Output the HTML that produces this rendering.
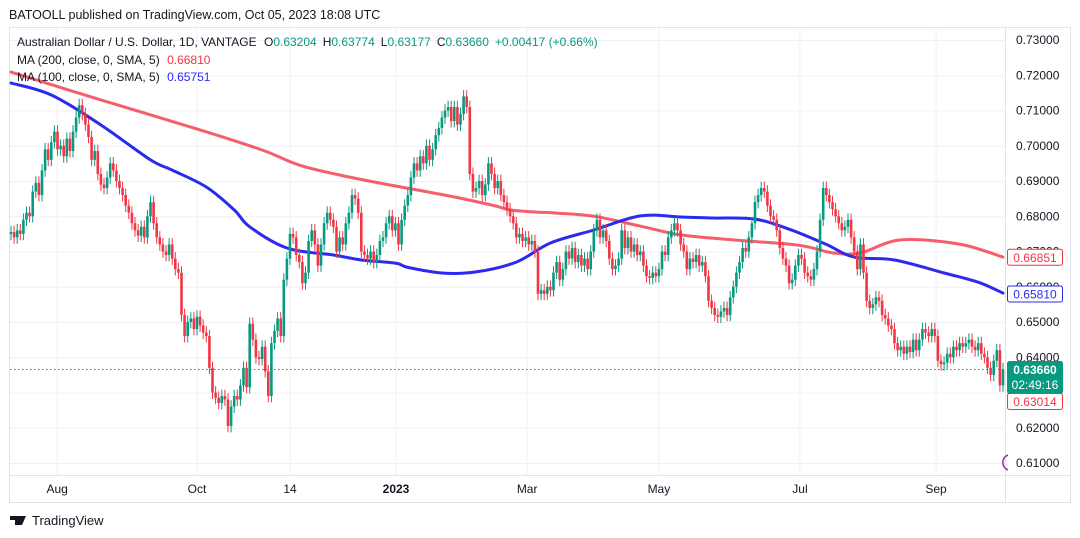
<!DOCTYPE html>
<html><head><meta charset="utf-8"><style>
body{margin:0;background:#fff;font-family:"Liberation Sans",sans-serif;}
svg{display:block}
</style></head><body>
<svg id="chart" width="1080" height="538" xmlns="http://www.w3.org/2000/svg" font-family="Liberation Sans, sans-serif">
<text x="9" y="19" font-size="12.5" fill="#131722">BATOOLL published on TradingView.com, Oct 05, 2023 18:08 UTC</text>
<rect x="9.5" y="27.5" width="1061" height="475" fill="none" stroke="#e0e3eb"/>
<g id="grid"></g>
<line x1="10" y1="475.5" x2="1070" y2="475.5" stroke="#e0e3eb"/>
<line x1="1005.5" y1="28" x2="1005.5" y2="502" stroke="#e0e3eb"/>
<g id="ma"></g>
<g id="candles"></g>
<line x1="10" y1="369.5" x2="1005" y2="369.5" stroke="#089981" stroke-dasharray="1.5,2.5"/>
<g id="axes"></g>
<text x="17" y="46" font-size="12" fill="#131722">Australian Dollar / U.S. Dollar, 1D, VANTAGE <tspan dx="4">O</tspan><tspan fill="#089981">0.63204</tspan><tspan dx="6">H</tspan><tspan fill="#089981">0.63774</tspan><tspan dx="6">L</tspan><tspan fill="#089981">0.63177</tspan><tspan dx="6">C</tspan><tspan fill="#089981">0.63660</tspan><tspan dx="6" fill="#089981">+0.00417 (+0.66%)</tspan></text>
<text x="17" y="64" font-size="12" fill="#131722">MA (200, close, 0, SMA, 5) <tspan dx="4" fill="#f23645">0.66810</tspan></text>
<text x="17" y="81" font-size="12" fill="#131722">MA (100, close, 0, SMA, 5) <tspan dx="4" fill="#2a2aff">0.65751</tspan></text>
<path d="M1008,455 a8,8 0 0 0 0,15" fill="none" stroke="#9c27b0" stroke-width="1.5"/>
<g><path d="M10,516 h9 v9 h-4 v-5 h-5z M19,516 h3 l-3,9 h-3z M22,516 h4 l-4,9 h-3z" fill="#131722"/>
<text x="32" y="525" font-size="13" fill="#131722">TradingView</text></g>
</svg>
<script>
const closes=[0.6755,0.6740,0.6760,0.6750,0.6790,0.6810,0.6800,0.6870,0.6895,0.6860,
0.6930,0.6990,0.6960,0.7010,0.7040,0.6990,0.7000,0.6970,0.7020,0.6985,
0.7040,0.7080,0.7115,0.7090,0.7060,0.7025,0.6960,0.6985,0.6920,0.6890,
0.6880,0.6910,0.6950,0.6930,0.6900,0.6880,0.6860,0.6830,0.6810,0.6780,
0.6760,0.6745,0.6770,0.6740,0.6800,0.6840,0.6780,0.6740,0.6720,0.6700,
0.6690,0.6720,0.6680,0.6650,0.6640,0.6520,0.6460,0.6500,0.6510,0.6480,
0.6515,0.6490,0.6470,0.6460,0.6370,0.6300,0.6285,0.6270,0.6290,0.6280,
0.6205,0.6260,0.6290,0.6280,0.6320,0.6370,0.6315,0.6495,0.6450,0.6400,
0.6395,0.6430,0.6360,0.6290,0.6440,0.6475,0.6510,0.6460,0.6620,0.6680,
0.6750,0.6740,0.6690,0.6670,0.6610,0.6640,0.6730,0.6760,0.6720,0.6660,
0.6720,0.6780,0.6810,0.6790,0.6770,0.6700,0.6740,0.6720,0.6780,0.6810,
0.6860,0.6850,0.6810,0.6700,0.6690,0.6680,0.6700,0.6670,0.6690,0.6730,
0.6740,0.6780,0.6800,0.6760,0.6780,0.6720,0.6790,0.6830,0.6860,0.6910,
0.6950,0.6930,0.6970,0.6950,0.7000,0.6960,0.6990,0.7030,0.7050,0.7080,
0.7100,0.7110,0.7070,0.7110,0.7060,0.7090,0.7140,0.7110,0.6920,0.6870,
0.6880,0.6900,0.6860,0.6890,0.6950,0.6920,0.6880,0.6900,0.6860,0.6840,
0.6820,0.6800,0.6780,0.6740,0.6750,0.6730,0.6740,0.6720,0.6730,0.6700,
0.6580,0.6590,0.6580,0.6600,0.6590,0.6640,0.6670,0.6620,0.6650,0.6700,
0.6680,0.6710,0.6670,0.6690,0.6660,0.6680,0.6650,0.6700,0.6760,0.6790,
0.6740,0.6760,0.6730,0.6680,0.6650,0.6660,0.6680,0.6760,0.6710,0.6740,
0.6700,0.6720,0.6690,0.6700,0.6660,0.6630,0.6625,0.6640,0.6630,0.6650,
0.6700,0.6690,0.6740,0.6760,0.6780,0.6760,0.6720,0.6700,0.6650,0.6680,
0.6670,0.6690,0.6660,0.6670,0.6630,0.6560,0.6540,0.6520,0.6515,0.6530,
0.6540,0.6520,0.6570,0.6600,0.6640,0.6670,0.6710,0.6700,0.6740,0.6780,
0.6840,0.6860,0.6880,0.6870,0.6830,0.6800,0.6790,0.6760,0.6710,0.6680,
0.6660,0.6610,0.6620,0.6660,0.6690,0.6680,0.6640,0.6630,0.6620,0.6650,
0.6700,0.6790,0.6880,0.6860,0.6840,0.6820,0.6800,0.6780,0.6760,0.6770,
0.6790,0.6740,0.6700,0.6650,0.6720,0.6640,0.6560,0.6540,0.6550,0.6570,
0.6560,0.6520,0.6510,0.6490,0.6480,0.6440,0.6420,0.6430,0.6410,0.6430,
0.6415,0.6450,0.6420,0.6450,0.6480,0.6470,0.6460,0.6480,0.6460,0.6390,
0.6380,0.6385,0.6410,0.6400,0.6430,0.6420,0.6440,0.6430,0.6440,0.6450,
0.6430,0.6420,0.6440,0.6410,0.6400,0.6370,0.6350,0.6390,0.6420,0.6320,
0.6366];
const firstOpen=0.6750;
const maIdx=[0,29,61,81,93,106,122,140,155,161,169,176,188,204,216,233,254,265,274,287,306,320];
const ma200=[0.7209,0.7130,0.7045,0.6988,0.6945,0.6917,0.6889,0.6860,0.6832,0.6818,0.6812,0.6809,0.6800,0.6770,0.6747,0.6733,0.6718,0.6696,0.6696,0.6733,0.6721,0.6684];
const ma100Idx=[0,13,29,45,52,63,72,77,89,104,113,124,128,139,150,163,174,188,203,216,226,240,252,263,272,285,301,312,320];
const ma100=[0.7178,0.7144,0.7059,0.6960,0.6931,0.6883,0.6818,0.6770,0.6710,0.6690,0.6676,0.6667,0.6655,0.6639,0.6642,0.6670,0.6724,0.6761,0.6801,0.6798,0.6795,0.6792,0.6760,0.6720,0.6684,0.6676,0.6639,0.6613,0.6582];
const priceTicks=[0.73,0.72,0.71,0.70,0.69,0.68,0.67,0.66,0.65,0.64,0.63,0.62,0.61];
const timeLabels=["Aug","Oct","14","2023","Mar","May","Jul","Sep"];
const timeIdx=[14.9,60,90,124.2,166.5,209,254.5,298.4];

const NS="http://www.w3.org/2000/svg";
const yOf=p=>40+(0.73-p)*3525;
const xOf=i=>11+i*3.1;
function mk(tag,attrs,parent){const e=document.createElementNS(NS,tag);for(const k in attrs)e.setAttribute(k,attrs[k]);parent.appendChild(e);return e;}
const grid=document.getElementById('grid'),axes=document.getElementById('axes');
priceTicks.forEach(p=>{
  const l=mk('line',{x1:10,x2:1005,y1:yOf(p)+0.5,y2:yOf(p)+0.5,stroke:'#eef0f5'},grid);
  
  
  const t=mk('text',{x:1016,y:yOf(p)+4,'font-size':12,fill:'#131722'},axes);
  t.textContent=p.toFixed(5);
  
  
});
timeLabels.forEach((s,k)=>{
  const x=xOf(timeIdx[k]);
  const l=mk('line',{x1:x,x2:x,y1:28,y2:475,stroke:'#eef0f5'},grid);
  
  
  const t=mk('text',{x:x,y:493,'font-size':12,fill:'#131722','text-anchor':'middle','font-weight':s==='2023'?'bold':'normal'},axes);
  t.textContent=s;
  
  
});
const ma=document.getElementById('ma');
function line(idx,vals,col,name){
  const P=idx.map((i,k)=>[xOf(i),yOf(vals[k])]);
  let d='M'+P[0][0].toFixed(1)+','+P[0][1].toFixed(1);
  for(let k=0;k<P.length-1;k++){
    const p0=P[Math.max(0,k-1)],p1=P[k],p2=P[k+1],p3=P[Math.min(P.length-1,k+2)];
    const c1=[p1[0]+(p2[0]-p0[0])/6,p1[1]+(p2[1]-p0[1])/6];
    const c2=[p2[0]-(p3[0]-p1[0])/6,p2[1]-(p3[1]-p1[1])/6];
    d+=' C'+c1.map(v=>v.toFixed(1)).join(',')+' '+c2.map(v=>v.toFixed(1)).join(',')+' '+p2.map(v=>v.toFixed(1)).join(',');
  }
  const pl=mk('path',{d:d,fill:'none',stroke:col,'stroke-width':3,'stroke-linejoin':'round','stroke-linecap':'round'},ma);
  
  
}
line(maIdx,ma200,'rgba(242,54,69,0.8)','ma200-line');
line(ma100Idx,ma100,'#2b2bf0','ma100-line');
const cg=document.getElementById('candles');
closes.forEach((c,i)=>{
  const o=i===0?firstOpen:closes[i-1];
  const up=c>=o, col=up?'#089981':'#f23645';
  const x=xOf(i), hi=Math.max(o,c)+0.0018, lo=Math.min(o,c)-0.0018;
  const w=mk('line',{x1:x,x2:x,y1:yOf(hi),y2:yOf(lo),stroke:col,'stroke-width':1},cg);
  
  
  const top=yOf(Math.max(o,c)),h=Math.max(1,yOf(Math.min(o,c))-top);
  const b=mk('rect',{x:x-1.3,y:top,width:2.6,height:h,fill:col},cg);
  
  
});
function badge(y,txt,col,fill,name,h,txt2){
  const g=mk('g',{},axes);
  
  
  mk('rect',{x:1007.5,y:y+0.5,width:55,height:h,fill:fill,stroke:col,rx:2},g);
  const t=mk('text',{x:1035,y:y+13,'font-size':12,'text-anchor':'middle',fill:fill==='#fff'?col:'#fff','font-weight':txt2?'bold':'normal'},g);
  t.textContent=txt;
  if(txt2){const t2=mk('text',{x:1035,y:y+28,'font-size':12,'text-anchor':'middle',fill:'#fff'},g);t2.textContent=txt2;}
}
badge(yOf(0.66851)-8,'0.66851','#f23645','#fff','ma200-price-badge',16);
badge(yOf(0.6581)-8,'0.65810','#2b2bf0','#fff','ma100-price-badge',16);
badge(361,'0.63660','#089981','#089981','last-price-badge',32,'02:49:16');
badge(393,'0.63014','#f23645','#fff','low-price-badge',16);
</script>
</body></html>
